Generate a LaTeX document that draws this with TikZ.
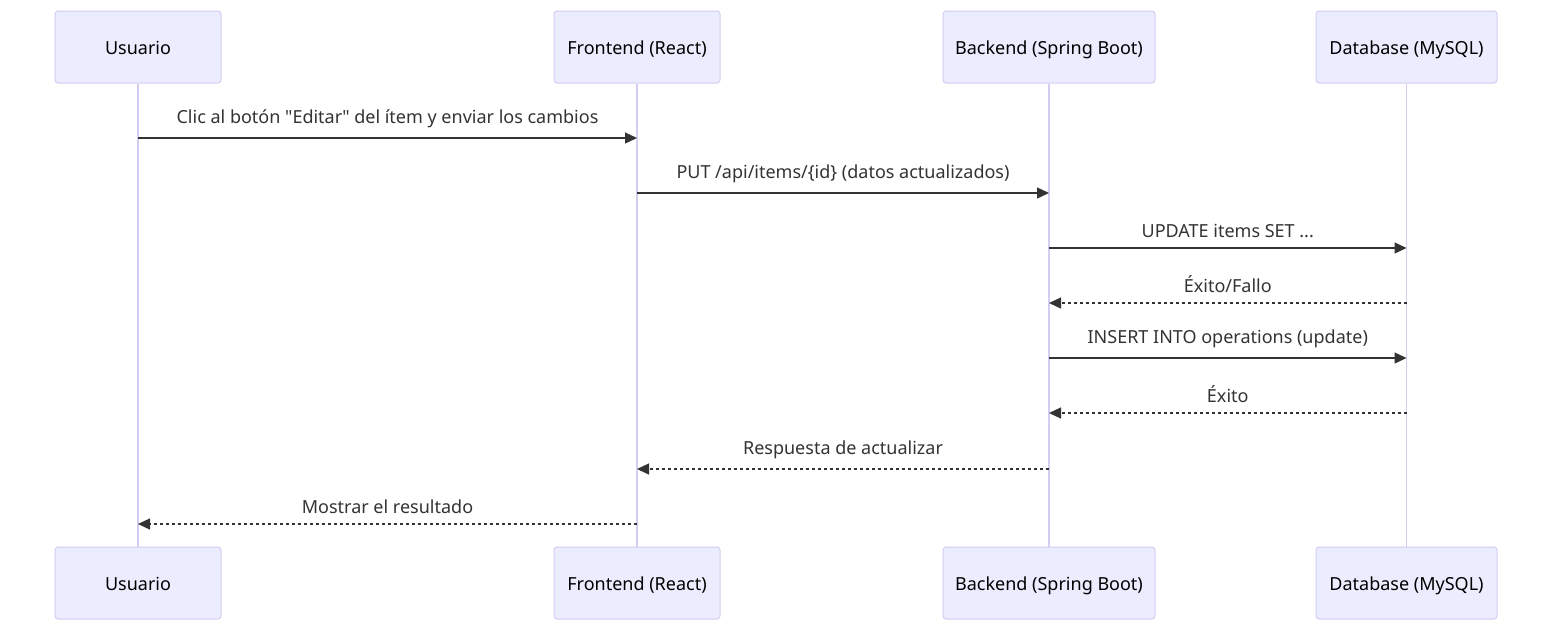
\documentclass[tikz,border=0pt]{standalone}
\usepackage{fontspec}
\setmainfont{Noto Sans}
\usetikzlibrary{arrows.meta}
\definecolor{actfill}{HTML}{ECECFF}
\definecolor{actline}{HTML}{D5CCF2}
\definecolor{msg}{HTML}{333333}
\begin{document}
\begin{tikzpicture}[x=1pt,y=-1pt,
  actor/.style={draw=actline,fill=actfill,line width=1pt,rounded corners=3pt,minimum height=72pt,inner sep=0pt,font=\fontsize{18}{21}\selectfont,text=black,text height=15pt,text depth=0pt},
  life/.style={draw=actline,line width=1.6pt},
  call/.style={draw=msg,line width=1.3pt,-{Triangle[length=12pt,width=11pt]}},
  reply/.style={call,dash pattern=on 3pt off 3pt},
  lbl/.style={font=\fontsize{18}{21}\selectfont,text=msg,inner sep=0pt}]
\useasboundingbox (0,0) rectangle (1568,638);
% top actors
\node[actor,minimum width=166pt] (u1) at (138,47) {Usuario};
\node[actor,minimum width=166pt] (f1) at (637,47) {Frontend (React)};
\node[actor,minimum width=212pt] (b1) at (1049,47) {Backend (Spring Boot)};
\node[actor,minimum width=181pt] (d1) at (1406.5,47) {Database (MySQL)};
% bottom actors
\node[actor,minimum width=166pt] (u2) at (138,583) {Usuario};
\node[actor,minimum width=166pt] (f2) at (637,583) {Frontend (React)};
\node[actor,minimum width=212pt] (b2) at (1049,583) {Backend (Spring Boot)};
\node[actor,minimum width=181pt] (d2) at (1406.5,583) {Database (MySQL)};
% lifelines
\draw[life] (u1.south) -- (u2.north);
\draw[life] (f1.south) -- (f2.north);
\draw[life] (b1.south) -- (b2.north);
\draw[life] (d1.south) -- (d2.north);
% messages
\draw[call] (u1.south |- 0,138) -- node[lbl,above=10pt] {Clic al botón \textquotedbl Editar\textquotedbl{} del ítem y enviar los cambios} (f1.south |- 0,138);
\draw[call] (f1.south |- 0,193) -- node[lbl,above=10pt] {PUT /api/items/\{id\} (datos actualizados)} (b1.south |- 0,193);
\draw[call] (b1.south |- 0,248) -- node[lbl,above=10pt] {UPDATE items SET ...} (d1.south |- 0,248);
\draw[reply] (d1.south |- 0,303) -- node[lbl,above=10pt] {Éxito/Fallo} (b1.south |- 0,303);
\draw[call] (b1.south |- 0,358) -- node[lbl,above=10pt] {INSERT INTO operations (update)} (d1.south |- 0,358);
\draw[reply] (d1.south |- 0,413) -- node[lbl,above=10pt] {Éxito} (b1.south |- 0,413);
\draw[reply] (b1.south |- 0,469) -- node[lbl,above=10pt] {Respuesta de actualizar} (f1.south |- 0,469);
\draw[reply] (f1.south |- 0,524) -- node[lbl,above=10pt] {Mostrar el resultado} (u1.south |- 0,524);
\end{tikzpicture}
\end{document}
